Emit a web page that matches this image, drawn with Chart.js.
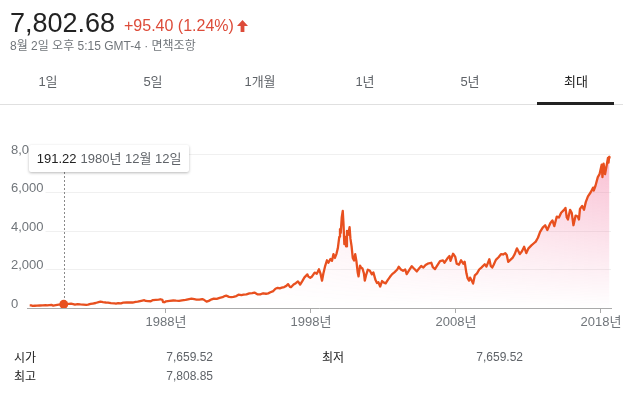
<!DOCTYPE html>
<html><head><meta charset="utf-8">
<script src="https://cdn.jsdelivr.net/npm/chart.js@4/dist/chart.umd.min.js"></script>
<style>
html,body{margin:0;padding:0;background:#fff;width:623px;height:398px;overflow:hidden;font-family:Arial,"Liberation Sans","Noto Sans CJK KR",sans-serif;}
#c{position:absolute;left:0;top:0;z-index:0;}
.abs{position:absolute;white-space:nowrap;z-index:2;}
.tab{position:absolute;width:100px;text-align:center;top:74px;line-height:16px;font-size:13px;color:#5f6368;z-index:2;}
#tip{position:absolute;top:145px;height:27px;line-height:27px;padding:0 8px;background:#fff;border-radius:2px;box-shadow:0 1px 3px rgba(0,0,0,0.28);font-size:13px;white-space:nowrap;z-index:3;}
</style></head><body>
<canvas id="c" width="623" height="398"></canvas>

<div class="abs" style="left:10px;top:8px;font-size:27px;line-height:30px;color:#222;">7,802.68</div>
<div class="abs" style="left:124px;top:16px;font-size:16px;line-height:20px;color:#dd4b39;">+95.40 (1.24%)</div>
<svg class="abs" style="left:237px;top:20px;" width="11" height="12" viewBox="0 0 11 12"><path d="M5.5 0 L11 6 L7.4 6 L7.4 12 L3.6 12 L3.6 6 L0 6 Z" fill="#dd4b39"/></svg>
<div class="abs" style="left:10px;top:39px;font-size:12px;line-height:14px;color:#70757a;">8월 2일 오후 5:15 GMT-4 · 면책조항</div>

<div class="tab" style="left:-2px;">1일</div>
<div class="tab" style="left:103px;">5일</div>
<div class="tab" style="left:210px;">1개월</div>
<div class="tab" style="left:315px;">1년</div>
<div class="tab" style="left:420px;">5년</div>
<div class="tab" style="left:526px;color:#222;">최대</div>
<div class="abs" style="left:0;top:104px;width:623px;height:1px;background:#e0e0e0;"></div>
<div class="abs" style="left:537px;top:102px;width:77px;height:3px;background:#222;"></div>

<div id="tip"><span style="color:#222;">191.22</span><span style="color:#5f6368;margin-left:4px;">1980년 12월 12일</span></div>

<div class="abs" style="left:14px;top:350px;font-size:12px;line-height:16px;color:#222;">시가</div>
<div class="abs" style="left:113px;width:100px;text-align:right;top:349px;font-size:12px;line-height:16px;color:#5f6368;">7,659.52</div>
<div class="abs" style="left:322px;top:350px;font-size:12px;line-height:16px;color:#222;">최저</div>
<div class="abs" style="left:423px;width:100px;text-align:right;top:349px;font-size:12px;line-height:16px;color:#5f6368;">7,659.52</div>
<div class="abs" style="left:14px;top:369px;font-size:12px;line-height:16px;color:#222;">최고</div>
<div class="abs" style="left:113px;width:100px;text-align:right;top:368px;font-size:12px;line-height:16px;color:#5f6368;">7,808.85</div>

<script>
// ---- data (decimal years / index closes) ----
const dates = [
 1978.60,1978.70,1978.80,1978.95,1979.10,1979.30,1979.50,1979.70,1979.80,1979.95,
 1980.10,1980.22,1980.40,1980.60,1980.75,1980.87,1980.948,
 1981.10,1981.30,1981.45,1981.60,1981.72,1981.90,
 1982.10,1982.30,1982.50,1982.62,1982.80,1982.95,
 1983.15,1983.35,1983.48,1983.65,1983.85,
 1984.00,1984.20,1984.45,1984.55,1984.70,1984.90,
 1985.05,1985.30,1985.50,1985.70,1985.90,
 1986.05,1986.30,1986.50,1986.60,1986.75,1986.95,
 1987.10,1987.30,1987.50,1987.62,1987.75,1987.80,1987.90,
 1988.00,1988.25,1988.50,1988.70,1988.90,
 1989.10,1989.35,1989.60,1989.75,1989.95,
 1990.10,1990.30,1990.50,1990.62,1990.80,1990.95,
 1991.15,1991.30,1991.50,1991.70,1991.90,
 1992.05,1992.15,1992.35,1992.50,1992.65,1992.85,
 1993.00,1993.20,1993.35,1993.55,1993.75,1993.95,
 1994.10,1994.30,1994.50,1994.70,1994.90,
 1995.05,1995.20,1995.40,1995.55,1995.70,1995.85,1995.98,
 1996.15,1996.30,1996.42,1996.55,1996.62,1996.80,1996.95,
 1997.10,1997.25,1997.40,1997.55,1997.75,1997.82,1997.95,
 1998.05,1998.25,1998.40,1998.55,1998.65,1998.76,1998.85,1998.98,
 1999.10,1999.20,1999.35,1999.45,1999.55,1999.65,1999.75,1999.85,1999.95,
 2000.00,2000.05,2000.12,2000.19,2000.24,2000.30,2000.36,2000.42,2000.48,2000.56,2000.66,2000.72,2000.80,2000.88,2000.97,
 2001.05,2001.13,2001.22,2001.28,2001.38,2001.45,2001.55,2001.65,2001.71,2001.80,2001.92,
 2002.05,2002.20,2002.30,2002.45,2002.55,2002.65,2002.77,2002.90,
 2003.00,2003.15,2003.30,2003.45,2003.60,2003.75,2003.95,
 2004.05,2004.20,2004.35,2004.50,2004.60,2004.75,2004.95,
 2005.10,2005.30,2005.45,2005.60,2005.75,2005.90,
 2006.05,2006.30,2006.40,2006.55,2006.70,2006.90,
 2007.10,2007.20,2007.40,2007.55,2007.62,2007.80,2007.95,
 2008.05,2008.20,2008.35,2008.50,2008.60,2008.72,2008.80,2008.90,2008.97,
 2009.10,2009.18,2009.30,2009.45,2009.60,2009.75,2009.98,
 2010.10,2010.30,2010.40,2010.50,2010.60,2010.75,2010.95,
 2011.10,2011.25,2011.40,2011.50,2011.60,2011.75,2011.90,
 2012.05,2012.20,2012.40,2012.55,2012.70,2012.85,
 2013.00,2013.20,2013.35,2013.50,2013.65,2013.80,2013.98,
 2014.15,2014.30,2014.50,2014.65,2014.78,2014.95,
 2015.10,2015.25,2015.45,2015.55,2015.64,2015.72,2015.87,2015.98,
 2016.10,2016.25,2016.40,2016.48,2016.55,2016.70,2016.83,2016.95,
 2017.10,2017.28,2017.45,2017.50,2017.62,2017.78,2017.90,
 2018.05,2018.10,2018.18,2018.28,2018.40,2018.48,2018.52,2018.56,2018.585
];
const closes = [
 135,132,112,118,125,130,138,150,135,150,
 160,125,145,170,185,205,191.22,
 200,215,222,200,175,200,
 185,175,162,170,210,232,
 260,300,328,300,285,
 278,250,235,225,250,245,
 275,285,295,285,320,
 335,375,405,365,355,350,
 410,425,430,455,420,310,300,
 345,375,390,380,375,
 400,420,465,485,455,
 430,435,465,425,330,370,
 450,490,475,525,560,
 620,640,580,565,580,620,
 690,665,690,705,760,775,
 800,715,710,765,740,
 760,820,880,1000,1050,1020,1055,
 1090,1150,1240,1100,1080,1220,1290,
 1380,1220,1400,1590,1745,1630,1570,
 1620,1840,1780,2010,1800,1420,1780,2190,
 2480,2350,2550,2450,2800,2600,2800,3100,3700,
 4100,3900,4700,5048,4400,3320,3700,3200,4000,3800,4200,3600,3200,2600,2470,
 2800,2450,1850,1640,2200,2100,2050,1800,1420,1700,1990,
 1950,1750,1850,1450,1300,1340,1114,1400,
 1330,1280,1460,1620,1760,1850,2000,
 2140,2000,1930,2000,1760,1940,2170,
 2050,1900,2050,2180,2100,2230,
 2300,2350,2120,2020,2200,2440,
 2470,2350,2570,2700,2450,2820,2650,
 2300,2250,2480,2300,2400,1800,1550,1420,1580,
 1400,1268,1700,1800,2000,2100,2270,
 2150,2530,2180,2100,2250,2500,2650,
 2800,2780,2850,2750,2400,2500,2600,
 2800,3100,2800,2950,3180,2850,
 3100,3250,3350,3450,3650,3950,4176,
 4300,4050,4400,4550,4250,4750,
 4700,4950,5100,5200,4700,4600,5100,4950,
 4300,4800,4750,4600,5150,5300,5100,5500,
 5800,6000,6250,6100,6350,6800,6950,
 7450,6800,7500,6950,7450,7800,7550,7850,7802.68
];
const markDate = 1980.948;
const markClose = 191.22;
const yTicks = [0, 2000, 4000, 6000, 8000];
const xTickYears = [1988, 1998, 2008, 2018];

// ---- chart ----
const FONT = "Arial, 'Liberation Sans', 'Noto Sans CJK KR', sans-serif";
const lineColor = '#e8501f';
const xMin = 1978.414, xMax = 2018.69;
const TIP_BOTTOM = 172;

const series = dates.map((d, i) => ({x: d, y: closes[i]}));
const markPoint = [{x: markDate, y: markClose}];

let fillPattern = null;
function getFill(ctx) {
  const chart = ctx.chart, ca = chart.chartArea;
  if (!ca) return 'rgba(0,0,0,0)';
  if (fillPattern) return fillPattern;
  const off = document.createElement('canvas');
  off.width = chart.width; off.height = chart.height;
  const o = off.getContext('2d');
  const hg = o.createLinearGradient(ca.left, 0, ca.right, 0);
  hg.addColorStop(0, 'rgba(240,98,146,0)');
  hg.addColorStop(0.3, 'rgba(240,98,146,0.03)');
  hg.addColorStop(1, 'rgba(240,98,146,0.42)');
  o.fillStyle = hg; o.fillRect(0, 0, off.width, off.height);
  o.globalCompositeOperation = 'destination-in';
  const vg = o.createLinearGradient(0, ca.top, 0, ca.bottom);
  vg.addColorStop(0, 'rgba(0,0,0,1)');
  vg.addColorStop(1, 'rgba(0,0,0,0)');
  o.fillStyle = vg; o.fillRect(0, 0, off.width, off.height);
  fillPattern = chart.ctx.createPattern(off, 'no-repeat');
  return fillPattern;
}

const guidePlugin = {
  id: 'markerGuide',
  beforeDatasetsDraw(chart) {
    const pt = chart.getDatasetMeta(0).data[0];
    if (!pt) return;
    const c = chart.ctx;
    c.save();
    c.strokeStyle = '#8a8a8a'; c.lineWidth = 1; c.setLineDash([2, 2]);
    const x = Math.round(pt.x) + 0.5;
    c.beginPath(); c.moveTo(x, TIP_BOTTOM); c.lineTo(x, pt.y); c.stroke();
    c.restore();
  }
};

const chart = new Chart(document.getElementById('c'), {
  type: 'line',
  data: {datasets: [
    {data: markPoint, borderColor: lineColor, backgroundColor: lineColor, pointRadius: 4.5, pointBorderWidth: 0, showLine: false, order: 0},
    {data: series, borderColor: lineColor, borderWidth: 2.3, pointRadius: 0, tension: 0, fill: 'origin', backgroundColor: getFill, borderJoinStyle: 'round', order: 1}
  ]},
  options: {
    responsive: false, animation: false, devicePixelRatio: 1, events: [],
    layout: {padding: {left: 11, right: 12, top: 154, bottom: 60}},
    plugins: {legend: {display: false}, tooltip: {enabled: false}},
    scales: {
      x: {
        type: 'linear', min: xMin, max: xMax,
        afterBuildTicks: s => { s.ticks = xTickYears.map(v => ({value: v})); },
        afterFit: s => { s.height = 30; s.paddingLeft = 0; s.paddingRight = 0; },
        grid: {display: true, drawOnChartArea: false, drawTicks: true, tickLength: 5, color: '#aaaaaa'},
        border: {display: true, color: '#aaaaaa'},
        ticks: {padding: 2, color: '#70757a', font: {size: 13, family: FONT}, maxRotation: 0, autoSkip: false,
                callback: v => v + '년'}
      },
      y: {
        min: 0, max: 8000,
        afterBuildTicks: s => { s.ticks = yTicks.map(v => ({value: v})); },
        afterFit: s => { s.width = 16; s.paddingTop = 0; s.paddingBottom = 0; },
        grid: {color: '#f0f0f0', drawTicks: false},
        border: {display: false},
        ticks: {mirror: true, crossAlign: 'near', labelOffset: -4, padding: -16, color: '#70757a', font: {size: 13, family: FONT},
                showLabelBackdrop: true, backdropColor: '#ffffff', backdropPadding: {top: 0, bottom: 0, left: 0, right: 2},
                callback: v => Number(v).toLocaleString('en-US')}
      }
    }
  },
  plugins: [guidePlugin]
});

const tip = document.getElementById('tip');
tip.style.left = (chart.scales.x.getPixelForValue(markDate) - 35) + 'px';
</script>
</body></html>
